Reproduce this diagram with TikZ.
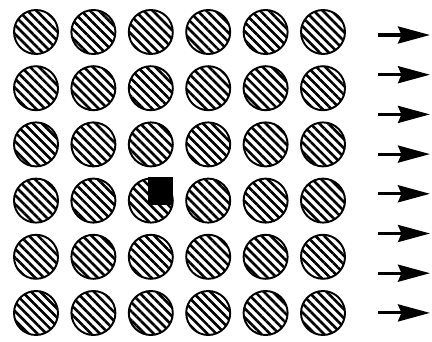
\documentclass[tikz,border=0pt]{standalone}
\usetikzlibrary{arrows.meta,patterns.meta}

\begin{document}
\begin{tikzpicture}[
  x=0.02cm, y=-0.02cm,
  ball/.style={circle, draw, line width=1.1pt, minimum size=0.88cm, inner sep=0pt,
    pattern={Lines[angle=-45, distance=3.6pt, line width=1.5pt]}},
  defect/.style={fill=black, minimum width=0.5cm, minimum height=0.56cm, inner sep=0pt},
  flow/.style={line width=1.8pt, -{Stealth[length=0.64cm, width=0.34cm, inset=0.07cm]}}
]
\useasboundingbox (0,0) rectangle (432,341);
% lattice of scatterers
\foreach \r in {1,...,6}
  \foreach \c in {1,...,6}
    \node[ball] (b-\r-\c) at ({36+(\c-1)*57.4}, {32+(\r-1)*56.2}) {};
\node[defect] (defect) at (160.5,191) {};
% incoming flow
\foreach \i in {1,...,8} {
  \coordinate (t\i) at (378, {35+(\i-1)*39.7});
  \coordinate (h\i) at (430, {35+(\i-1)*39.7});
  \draw[flow] (t\i) -- (h\i);
}
\end{tikzpicture}
\end{document}
